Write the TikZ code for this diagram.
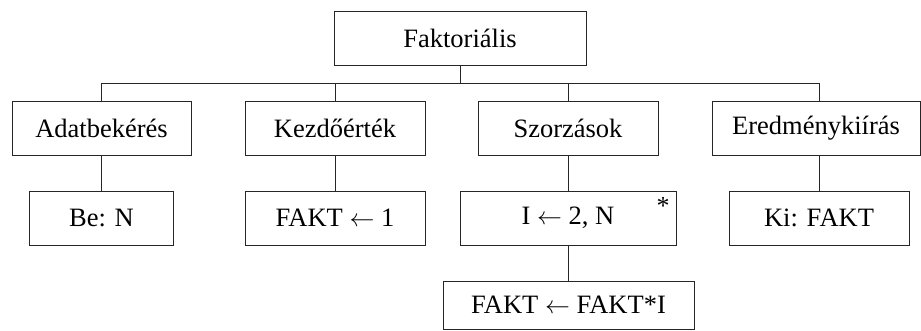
\documentclass[tikz,border=0pt]{standalone}
\usepackage{fontspec}
\setmainfont{Liberation Serif}
\newcommand{\arr}{\ensuremath{\leftarrow}}
\begin{document}
\begin{tikzpicture}[x=1pt,y=-1pt,
  box/.style={draw=black!85, line width=0.9pt, inner sep=0pt, minimum height=54pt, font=\fontsize{26.5}{30}\selectfont},
  link/.style={draw=black!85, line width=0.9pt}]
\useasboundingbox (0,0) rectangle (921,330);
\node[box, minimum width=252pt] (top) at (460,38.5) {Faktoriális};
\node[box, minimum width=179pt] (A) at (101.5,128) {Adatbekérés};
\node[box, minimum width=180pt] (K) at (335,128) {Kezdőérték};
\node[box, minimum width=180pt] (S) at (568,128) {Szorzások};
\node[box, minimum width=208pt] (E) at (816,128) {Eredménykiírás};
\node[box, minimum width=144pt] (B) at (101.5,218) {Be: N};
\node[box, minimum width=180pt] (F) at (335,218) {FAKT \arr{} 1};
\node[box, minimum width=216pt] (I) at (568,218) {I \arr{} 2, N};
\node[box, minimum width=180pt] (Ki) at (819,218) {Ki: FAKT};
\node[box, minimum width=251pt, minimum height=48pt] (M) at (568.5,305) {FAKT \arr{} FAKT*I};
\node[font=\fontsize{26}{26}\selectfont, inner sep=0pt] (star) at (663,206) {*};
\coordinate (bar) at (0,83);
\coordinate (eTop) at (819,101);
\coordinate (eBot) at (819,155);
\draw[link] (top.south) -- (top.south |- bar);
\draw[link] (A.north) -- (A.north |- bar) -- (eTop |- bar) -- (eTop);
\draw[link] (K.north) -- (K.north |- bar);
\draw[link] (S.north) -- (S.north |- bar);
\draw[link] (A.south) -- (B.north);
\draw[link] (K.south) -- (F.north);
\draw[link] (S.south) -- (I.north);
\draw[link] (eBot) -- (Ki.north);
\draw[link] (I.south) -- (I.south |- M.north);
\end{tikzpicture}
\end{document}
